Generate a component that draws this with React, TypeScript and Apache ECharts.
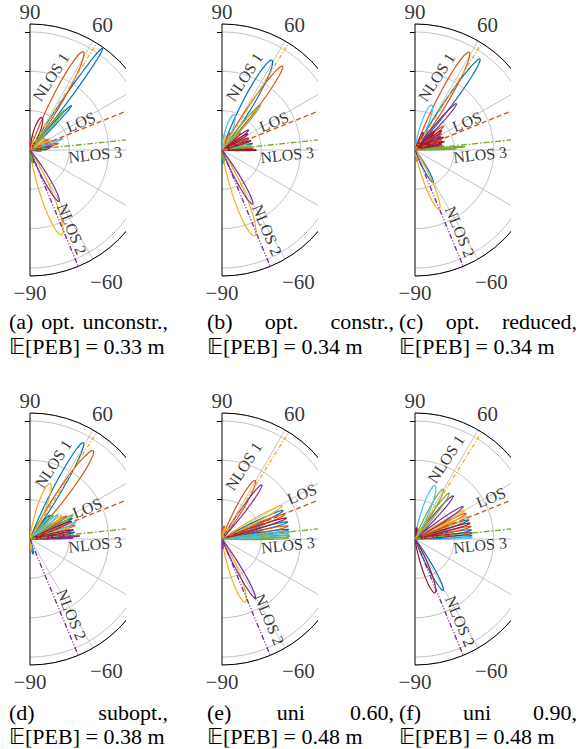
import React, { useEffect, useRef } from "react";
import * as echarts from "echarts";

const FONT = "'Liberation Serif', 'Times New Roman', serif";

// MATLAB default line colours
const COLORS = ["#0072BD", "#D95319", "#EDB120", "#7E2F8E", "#77AC30", "#4DBEEE", "#A2142F"];

// propagation paths
const PATH_NAMES = ["NLOS 1", "LOS", "NLOS 3", "NLOS 2"];
const PATH_ANGLES = [58, 22, 6, -67.5];
const PATH_COLORS = ["#EDB120", "#D95319", "#77AC30", "#7E2F8E"];
const PATH_DASHES = [[4, 2, 1, 2], [5, 3], [6, 2, 1.5, 2], [5, 2, 1, 2, 1, 2]];
const LABEL_ROT = [57, 22, 6, -67.5];

// angle axis
const ANGLE_MIN = -90;
const ANGLE_MAX = 90;
const ANGLE_STEP = 30;
const ANGLE_TICK_LABELS = [90, 60, -60, -90];
const ANGLE_TICK_LABEL_R = [3.5, 3.68, 3.88, 3.63];
// radius axis
const RADIUS_MAX = 3.2;
const RADIUS_TICKS = [1, 2, 3];

// beams: [direction (deg), peak gain, half width (deg), colour index]
const beamsA = [
  [54.5, 3.18, 5, 0], [61.5, 2.84, 11, 1], [47, 1.55, 5, 0], [49, 1.35, 5, 4],
  [70, 0.88, 20, 6], [19, 0.9, 5, 5], [13, 0.75, 6, 1], [24, 0.62, 7, 2],
  [9, 0.58, 6, 3], [5, 0.5, 6, 6], [2, 0.45, 5, 0], [30, 0.55, 8, 1],
  [38, 0.5, 9, 2], [16, 0.6, 5, 0], [0, 0.35, 5, 4], [78, 0.38, 14, 2],
  [84, 0.3, 14, 0], [-69.5, 2.3, 15, 2], [-60.5, 1.5, 11, 3], [-80, 0.32, 12, 4],
  [-75, 0.35, 12, 0], [-85, 0.25, 12, 3], [-5, 0.3, 8, 3],
];
const beamsB = [
  [60.9, 2.61, 12, 0], [54.2, 2.63, 9, 1], [49.6, 1.5, 7, 4], [71, 0.95, 20, 5],
  [37, 0.85, 8, 3], [0, 0.89, 4, 6], [3, 0.8, 4, 1], [6, 0.78, 4, 4],
  [9, 0.75, 5, 2], [12, 0.8, 5, 0], [15, 0.72, 5, 5], [18, 0.78, 5, 6],
  [21, 0.7, 5, 1], [24, 0.75, 6, 3], [28, 0.7, 6, 2], [32, 0.78, 7, 6],
  [42, 0.65, 8, 1], [46, 0.6, 8, 2], [64, 0.5, 10, 1], [80, 0.4, 14, 2],
  [-69.2, 2.33, 15, 2], [-60.5, 1.58, 10, 3], [-80, 0.3, 12, 4], [-85, 0.35, 12, 0],
];
const beamsC = [
  [61, 2.84, 11, 1], [54.5, 2.84, 8, 0], [69.6, 1.22, 16, 5], [48.2, 1.59, 7, 3],
  [3.8, 1.27, 3, 4], [1.8, 1.05, 3, 4], [40, 0.95, 7, 1], [36, 0.85, 7, 6],
  [32, 0.8, 6, 1], [28, 0.75, 6, 3], [24, 0.8, 5, 6], [20, 0.72, 5, 1],
  [16, 0.78, 5, 6], [12, 0.7, 5, 3], [8, 0.75, 4, 1], [44, 0.7, 8, 6],
  [58, 0.6, 9, 1], [65, 0.5, 10, 6], [-67.7, 1.63, 14, 2], [-60.8, 0.95, 11, 0],
  [-80, 0.3, 12, 1],
];
const beamsD = [
  [61, 2.8, 9, 0], [54.4, 2.76, 11, 1], [70, 1.5, 16, 2], [3.5, 1.27, 3, 3],
  [1.5, 1.1, 3, 3], [6, 1.05, 4, 6], [8.5, 1.15, 4, 0], [12, 1.13, 4, 6],
  [15, 1.05, 5, 2], [17, 1.2, 5, 1], [20, 1.25, 5, 5], [23, 1.15, 5, 6],
  [26, 1.2, 5, 0], [29, 1.25, 6, 4], [32, 1.1, 6, 1], [36, 1.0, 7, 2],
  [41, 0.95, 7, 5], [46, 0.85, 8, 4], [50, 0.8, 8, 0], [-78, 0.4, 10, 0],
  [-83, 0.3, 10, 2],
];
const beamsE = [
  [60.4, 1.71, 12, 1], [53.6, 1.71, 8, 3], [29, 1.75, 7, 2], [25, 1.72, 6, 0],
  [21.5, 1.72, 6, 1], [18, 1.73, 5, 6], [14.5, 1.73, 5, 0], [11, 1.72, 5, 1],
  [8, 1.72, 4, 0], [6, 1.74, 4, 5], [4, 1.72, 4, 5], [2.5, 1.74, 4, 4],
  [1, 1.7, 4, 4], [-69.8, 1.71, 15, 2], [-60.6, 1.72, 9, 3], [80, 0.35, 12, 1],
  [74, 0.3, 12, 2], [-85, 0.25, 10, 3],
];
const beamsF = [
  [69.4, 1.45, 15, 5], [60.5, 1.46, 10, 4], [53.3, 1.46, 8, 4], [48.5, 1.47, 8, 3],
  [34, 1.48, 7, 3], [30, 1.46, 6, 2], [26.5, 1.46, 6, 1], [23, 1.45, 6, 2],
  [19.5, 1.46, 5, 0], [16, 1.46, 5, 6], [12.5, 1.46, 5, 1], [9, 1.46, 5, 0],
  [6, 1.46, 4, 6], [3.5, 1.46, 4, 0], [1.5, 1.46, 4, 5], [-61.2, 1.49, 10, 0],
  [-69.7, 1.46, 14, 6], [84, 0.3, 12, 6], [78, 0.3, 12, 0],
];

// path label anchors: [radius, angle] for NLOS 1, LOS, NLOS 3, NLOS 2
const labelsA = [[1.93, 74], [1.47, 29], [1.66, -4], [2.27, -62]];
const labelsB = [[1.94, 73], [1.5, 28.7], [1.66, -4.3], [2.33, -60.6]];
const labelsC = [[1.93, 73.5], [1.5, 28.7], [1.66, -4.2], [2.37, -61.2]];
const labelsD = [[2.0, 72.8], [1.65, 28.4], [1.66, -4.8], [2.19, -61.2]];
const labelsE = [[1.93, 73.4], [2.33, 29.4], [1.68, -5.3], [2.37, -59.6]];
const labelsF = [[2.18, 68.8], [2.2, 28.7], [1.66, -5.4], [2.38, -61.3]];

// captions
const CAPTION_WORDS = [
  ["(a)", "opt.", "unconstr.,"],
  ["(b)", "opt.", "constr.,"],
  ["(c)", "opt.", "reduced,"],
  ["(d)", "subopt.,"],
  ["(e)", "uni", "0.60,"],
  ["(f)", "uni", "0.90,"],
];
const PEB = ["0.33", "0.34", "0.34", "0.38", "0.48", "0.48"];

// layout
const PANEL_CX = [30, 222, 415, 30, 222, 415];
const PANEL_CY = [150, 150, 150, 539, 539, 539];
const CAPTION_LEFT = [9, 207, 399, 9, 207, 399];
const CAPTION_RIGHT = [168, 394, 577, 168, 394, 577];
const CAPTION_Y1 = [321, 321, 321, 712, 712, 712];
const CAPTION_Y2 = [346, 346, 346, 736, 736, 736];
const PANEL_LEFT_PAD = 22;
const PANEL_TOP_PAD = 152;
const PANEL_W = 118;
const PANEL_H = 310;
const POLAR_R = 126;

const PANELS = [
  { beams: beamsA, labels: labelsA },
  { beams: beamsB, labels: labelsB },
  { beams: beamsC, labels: labelsC },
  { beams: beamsD, labels: labelsD },
  { beams: beamsE, labels: labelsE },
  { beams: beamsF, labels: labelsF },
];

function lobePoints(dir: number, gain: number, hw: number): number[][] {
  const out: number[][] = [];
  const n = 48;
  for (let i = 0; i <= n; i++) {
    const a = dir - hw + (2 * hw * i) / n;
    const u = ((a - dir) / hw) * (Math.PI / 2);
    const c = Math.cos(u);
    out.push([gain * c * c, a]);
  }
  return out;
}

function fmtAngle(v: number): string {
  return v < 0 ? "\u2212" + Math.abs(v) : String(v);
}

function panelOption(beams: number[][], labels: number[][]) {
  const byColor: number[][][] = COLORS.map(() => []);
  beams.forEach(([d, g, w, c]) => {
    byColor[c].push(...lobePoints(d, g, w));
  });
  const grey = "#c4c4c4";
  const center = [PANEL_LEFT_PAD, PANEL_TOP_PAD];
  const lobeSeries = byColor
    .map((pts, ci) => ({
      type: "line",
      coordinateSystem: "polar",
      polarIndex: 0,
      data: pts,
      symbol: "none",
      showSymbol: false,
      lineStyle: { color: COLORS[ci], width: 1.2 },
      silent: true,
      z: 3,
    }))
    .filter((s) => s.data.length > 0);
  const pathSeries = PATH_ANGLES.map((ang, i) => ({
    type: "line",
    coordinateSystem: "polar",
    polarIndex: 0,
    data: [
      [0, ang],
      [RADIUS_MAX, ang],
    ],
    symbol: "none",
    showSymbol: false,
    lineStyle: { color: PATH_COLORS[i], width: 1.4, type: PATH_DASHES[i] },
    silent: true,
    z: 4,
  }));
  const labelSeries = {
    type: "scatter",
    coordinateSystem: "polar",
    polarIndex: 0,
    symbolSize: 1,
    clip: false,
    itemStyle: { color: "rgba(0,0,0,0)" },
    silent: true,
    z: 5,
    label: {
      show: true,
      position: "inside",
      fontFamily: FONT,
      fontSize: 16,
      color: "#000",
    },
    data: labels.map((p, i) => ({
      value: [p[0], p[1]],
      label: { show: true, formatter: PATH_NAMES[i], rotate: LABEL_ROT[i] },
    })),
  };
  const tickLabelSeries = {
    type: "scatter",
    coordinateSystem: "polar",
    polarIndex: 0,
    symbolSize: 1,
    clip: false,
    itemStyle: { color: "rgba(0,0,0,0)" },
    silent: true,
    z: 5,
    label: {
      show: true,
      position: "inside",
      fontFamily: FONT,
      fontSize: 21,
      color: "#000",
      formatter: (p: any) => fmtAngle(p.value[1]),
    },
    data: ANGLE_TICK_LABELS.map((v, i) => [ANGLE_TICK_LABEL_R[i], v]),
  };
  return {
    animation: false,
    polar: [
      { center, radius: [0, POLAR_R] },
      { center, radius: [0, POLAR_R] },
    ],
    angleAxis: [
      {
        polarIndex: 0,
        type: "value",
        min: ANGLE_MIN,
        max: ANGLE_MAX,
        interval: ANGLE_STEP,
        startAngle: -90,
        endAngle: 90,
        clockwise: false,
        axisLine: { show: true, lineStyle: { color: "#000", width: 1 } },
        axisTick: { show: false },
        axisLabel: { show: false },
        splitLine: {
          show: true,
          lineStyle: { color: ["#000", grey, grey, grey, grey, grey, "#000"], width: 1 },
        },
      },
      {
        polarIndex: 1,
        type: "value",
        min: ANGLE_MIN,
        max: ANGLE_MAX,
        interval: ANGLE_STEP,
        startAngle: 90,
        endAngle: -90,
        clockwise: true,
        axisLine: { show: false },
        axisTick: { show: false },
        axisLabel: { show: false },
        splitLine: { show: false },
      },
    ],
    radiusAxis: [
      {
        polarIndex: 0,
        type: "value",
        min: 0,
        max: RADIUS_MAX,
        interval: 1,
        axisLine: { show: false },
        axisTick: { show: false },
        axisLabel: { show: false },
        splitLine: { show: true, lineStyle: { color: grey, width: 1 } },
      },
      {
        polarIndex: 1,
        type: "value",
        min: 0,
        max: RADIUS_MAX,
        interval: 1,
        axisLine: { show: false },
        axisTick: {
          show: true,
          inside: true,
          length: 5,
          customValues: RADIUS_TICKS,
          lineStyle: { color: "#000", width: 1 },
        },
        axisLabel: { show: false },
        splitLine: { show: false },
      },
    ],
    series: [...lobeSeries, ...pathSeries, labelSeries, tickLabelSeries],
  };
}

function Panel({ idx }: { idx: number }) {
  const ref = useRef<HTMLDivElement>(null);
  useEffect(() => {
    if (!ref.current) return;
    const chart = echarts.init(ref.current, null, { renderer: "svg" });
    chart.setOption(panelOption(PANELS[idx].beams, PANELS[idx].labels) as any);
    return () => chart.dispose();
  }, [idx]);
  return (
    <div
      ref={ref}
      style={{
        position: "absolute",
        left: PANEL_CX[idx] - PANEL_LEFT_PAD,
        top: PANEL_CY[idx] - PANEL_TOP_PAD,
        width: PANEL_W,
        height: PANEL_H,
        overflow: "hidden",
      }}
    />
  );
}

function captionOption() {
  const fontSize = 22;
  const font = `${fontSize}px ${FONT}`;
  const canvas = document.createElement("canvas");
  const ctx = canvas.getContext("2d");
  if (ctx) ctx.font = font;
  const measure = (t: string) => (ctx ? ctx.measureText(t).width : t.length * fontSize * 0.5);
  const elements: any[] = [];
  CAPTION_WORDS.forEach((words, i) => {
    const xl = CAPTION_LEFT[i];
    const xr = CAPTION_RIGHT[i];
    const widths = words.map(measure);
    const total = widths.reduce((a, b) => a + b, 0);
    const gap = words.length > 1 ? (xr - xl - total) / (words.length - 1) : 0;
    let x = xl;
    words.forEach((w, j) => {
      elements.push({
        type: "text",
        x,
        y: CAPTION_Y1[i],
        style: {
          text: w,
          font,
          fill: "#000",
          textAlign: "left",
          align: "left",
          textVerticalAlign: "middle",
          verticalAlign: "middle",
        },
      });
      x += widths[j] + gap;
    });
    elements.push({
      type: "text",
      x: xl,
      y: CAPTION_Y2[i],
      style: {
        text: `\u{1D53C}[PEB] = ${PEB[i]} m`,
        font,
        fill: "#000",
        textAlign: "left",
        align: "left",
        textVerticalAlign: "middle",
        verticalAlign: "middle",
      },
    });
  });
  return { animation: false, graphic: elements };
}

function Captions() {
  const ref = useRef<HTMLDivElement>(null);
  useEffect(() => {
    if (!ref.current) return;
    const chart = echarts.init(ref.current, null, { renderer: "svg" });
    chart.setOption(captionOption() as any);
    return () => chart.dispose();
  }, []);
  return <div ref={ref} style={{ position: "absolute", left: 0, top: 0, width: 585, height: 749 }} />;
}

export default function App() {
  return (
    <div
      style={{
        position: "absolute",
        left: 0,
        top: 0,
        width: 585,
        height: 749,
        background: "#fff",
        overflow: "hidden",
      }}
    >
      <Captions />
      {PANELS.map((_, i) => (
        <Panel key={i} idx={i} />
      ))}
    </div>
  );
}
